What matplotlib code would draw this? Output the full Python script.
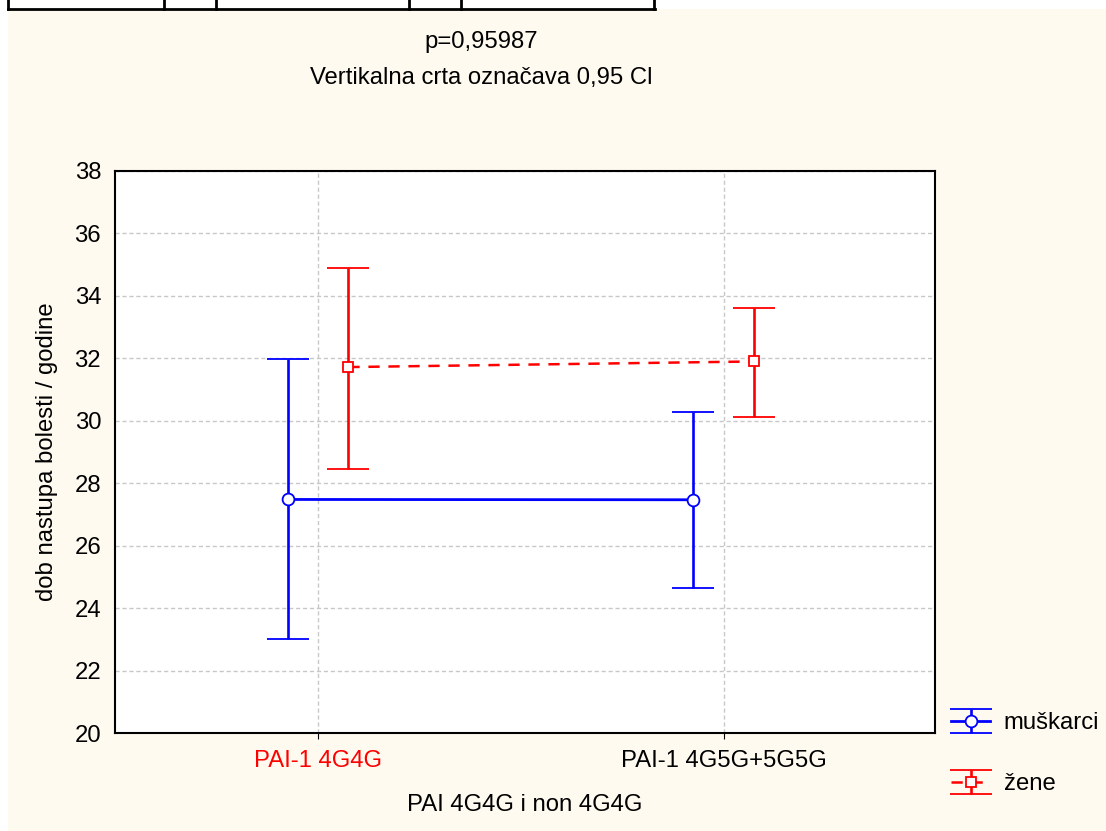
import numpy as np
import matplotlib.pyplot as plt
from matplotlib.patches import Rectangle
from matplotlib.lines import Line2D

plt.rcParams['font.family'] = ['Liberation Sans', 'DejaVu Sans']

groups = ['PAI-1 4G4G', 'PAI-1 4G5G+5G5G']

# muškarci: mean and 0.95 CI
m_mean = [27.48, 27.47]
m_low = [23.02, 24.66]
m_high = [31.98, 30.29]

# žene: mean and 0.95 CI
z_mean = [31.72, 31.90]
z_low = [28.47, 30.13]
z_high = [34.90, 33.60]

bg = '#fefaf0'
fs = 17.2

fig = plt.figure(figsize=(11.06, 8.31), dpi=100, facecolor='white')

# cream panel, leaving a thin white strip on top and left
fig.add_artist(Rectangle((8 / 1106, 0), 1, 1 - 9 / 831, transform=fig.transFigure,
                         facecolor=bg, edgecolor='none', zorder=0))
# bottom of the table above the plot
yl = 1 - 8.5 / 831
fig.add_artist(Line2D([8 / 1106, 655 / 1106], [yl, yl], transform=fig.transFigure,
                      color='black', lw=2))
for xp in [8, 164, 216, 409, 461, 654]:
    fig.add_artist(Line2D([xp / 1106, xp / 1106], [yl, 1], transform=fig.transFigure,
                          color='black', lw=2))

ax = fig.add_axes([115 / 1106, 1 - 733 / 831, 820 / 1106, 562 / 831])
ax.set_facecolor('white')

x = np.arange(len(groups))
off = 0.075

m_err = [np.array(m_mean) - np.array(m_low), np.array(m_high) - np.array(m_mean)]
z_err = [np.array(z_mean) - np.array(z_low), np.array(z_high) - np.array(z_mean)]

h1 = ax.errorbar(x - off, m_mean, yerr=m_err, color='#0000ff', lw=2,
                 elinewidth=1.9, capsize=15, capthick=1.9,
                 marker='o', markersize=8.5, markerfacecolor='white',
                 markeredgecolor='#0000ff', markeredgewidth=1.3, label='muškarci', zorder=3)
h2 = ax.errorbar(x + off, z_mean, yerr=z_err, color='#ff0000', lw=1.8, ls=(0, (4.5, 3.5)),
                 elinewidth=1.9, capsize=15, capthick=1.9,
                 marker='s', markersize=7.5, markerfacecolor='white',
                 markeredgecolor='#ff0000', markeredgewidth=1.3, label='žene', zorder=3)
h2[2][0].set_linestyle('-')

ax.set_xlim(-0.5, 1.52)
ax.set_ylim(20, 38)
ax.set_yticks(np.arange(20, 39, 2))
ax.set_xticks(x)
ax.set_xticklabels(groups, fontsize=fs)
ax.get_xticklabels()[0].set_color('#ff0000')
ax.tick_params(axis='y', labelsize=fs, length=0, pad=10)
ax.tick_params(axis='x', length=4, direction='out', pad=8)
ax.grid(True, color='#c8c8c8', ls=(0, (3, 2)), lw=1)
ax.set_axisbelow(True)
for sp in ax.spines.values():
    sp.set_linewidth(1.5)
    sp.set_color('black')

ax.set_xlabel('PAI 4G4G i non 4G4G', fontsize=fs, labelpad=16)
ax.set_ylabel('dob nastupa bolesti / godine', fontsize=fs, labelpad=12)

fig.text(481 / 1106, 1 - 42 / 831, 'p=0,95987', fontsize=fs, ha='center', va='center')
fig.text(481 / 1106, 1 - 78 / 831, 'Vertikalna crta označava 0,95 Cl', fontsize=fs,
         ha='center', va='center')

fig.legend(handles=[h1, h2], loc='upper left', bbox_to_anchor=(951 / 1106, 1 - 712 / 831),
           frameon=False, fontsize=fs, handlelength=1.65, handletextpad=0.55,
           labelspacing=1.65, borderpad=0, borderaxespad=0)

plt.savefig('out.png', dpi=100, facecolor='white')
